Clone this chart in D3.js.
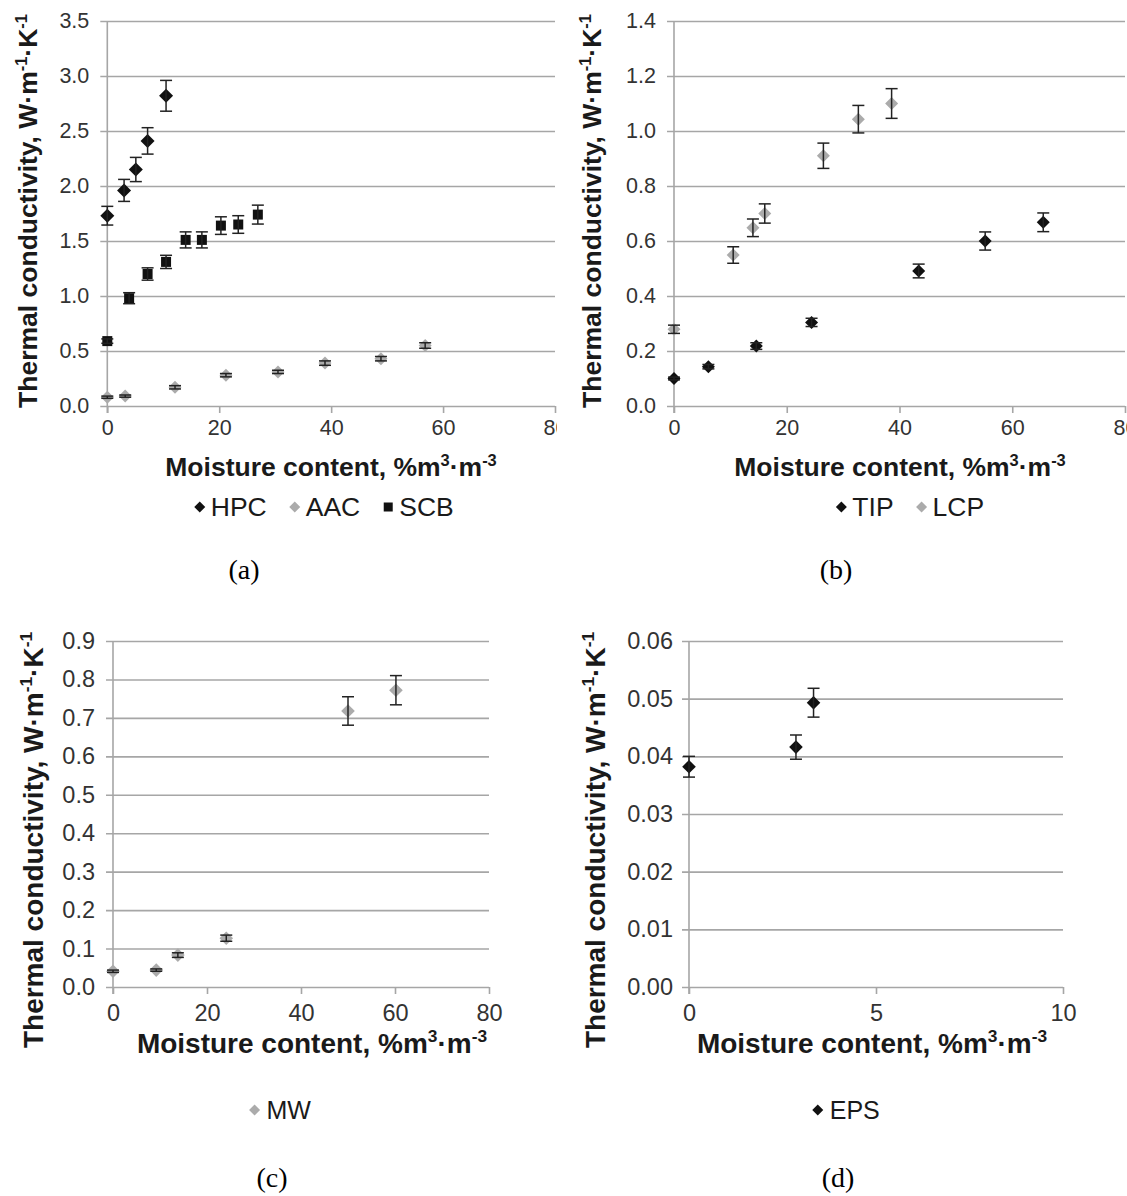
<!DOCTYPE html>
<html>
<head>
<meta charset="utf-8">
<script src="https://cdn.jsdelivr.net/npm/d3@7"></script>
<style>
  html, body { margin: 0; padding: 0; background: #fff; }
  svg { display: block; }
</style>
</head>
<body>
<svg id="chart" width="1127" height="1196"></svg>
<script>
// ---------------- DATA ----------------
// Panel (a)
const hpcX = [0, 3.0, 5.1, 7.2, 10.5];
const hpcY = [1.73, 1.96, 2.15, 2.41, 2.82];
const hpcErr = [0.085, 0.10, 0.11, 0.12, 0.14];
const aacX = [0, 3.2, 12.1, 21.2, 30.5, 38.9, 48.9, 56.8];
const aacY = [0.08, 0.09, 0.17, 0.28, 0.31, 0.39, 0.43, 0.55];
const aacErr = [0.01, 0.01, 0.015, 0.015, 0.015, 0.02, 0.02, 0.025];
const scbX = [0, 3.9, 7.2, 10.5, 14.0, 16.9, 20.3, 23.4, 26.9];
const scbY = [0.59, 0.98, 1.20, 1.31, 1.51, 1.51, 1.64, 1.65, 1.74];
const scbErr = [0.02, 0.05, 0.056, 0.06, 0.073, 0.073, 0.08, 0.08, 0.086];
// Panel (b)
const tipX = [0, 6.1, 14.6, 24.4, 43.4, 55.2, 65.5];
const tipY = [0.10, 0.143, 0.218, 0.304, 0.491, 0.60, 0.668];
const tipErr = [0.005, 0.008, 0.012, 0.015, 0.025, 0.033, 0.034];
const lcpX = [0, 10.5, 14.0, 16.1, 26.5, 32.7, 38.6];
const lcpY = [0.279, 0.549, 0.648, 0.70, 0.910, 1.043, 1.10];
const lcpErr = [0.015, 0.03, 0.032, 0.035, 0.046, 0.05, 0.054];
// Panel (c)
const mwX = [0, 9.2, 13.8, 24.1, 50.0, 60.2];
const mwY = [0.041, 0.044, 0.083, 0.127, 0.718, 0.772];
const mwErr = [0.003, 0.003, 0.006, 0.008, 0.037, 0.038];
// Panel (d)
const epsX = [0, 2.86, 3.33];
const epsY = [0.0382, 0.0416, 0.0493];
const epsErr = [0.0018, 0.0021, 0.0025];

// Tick values
const xTicksA = [0, 20, 40, 60, 80];
const yTicksA = [0, 0.5, 1.0, 1.5, 2.0, 2.5, 3.0, 3.5];
const xTicksB = [0, 20, 40, 60, 80];
const yTicksB = [0, 0.2, 0.4, 0.6, 0.8, 1.0, 1.2, 1.4];
const xTicksC = [0, 20, 40, 60, 80];
const yTicksC = [0, 0.1, 0.2, 0.3, 0.4, 0.5, 0.6, 0.7, 0.8, 0.9];
const xTicksD = [0, 5, 10];
const yTicksD = [0, 0.01, 0.02, 0.03, 0.04, 0.05, 0.06];

const captions = ["(a)", "(b)", "(c)", "(d)"];
const xTitleParts = [["Moisture content, %m", 0], ["3", 1], ["·m", 0], ["-3", 1]];
const yTitleParts = [["Thermal conductivity, W·m", 0], ["-1", 1], ["·K", 0], ["-1", 1]];

// ---------------- STYLE ----------------
const BLACK = "#111111";
const GRAY = "#ababab";
const GRID = "#a6a6a6";
const SANS = "'Liberation Sans', Arial, sans-serif";
const SERIF = "'Liberation Serif', 'Times New Roman', serif";

const svg = d3.select("#chart");

function zip(xs, ys, es) { return xs.map((x, i) => ({ x: x, y: ys[i], e: es[i] })); }

function richText(sel, parts, fs) {
  parts.forEach(([t, sup], i) => {
    const ts = sel.append("tspan").text(t);
    if (sup) {
      ts.attr("font-size", fs * 0.62).attr("dy", -fs * 0.38);
    } else {
      ts.attr("font-size", fs);
      if (i > 0 && parts[i - 1][1]) ts.attr("dy", fs * 0.38);
    }
  });
}

function diamondPath(r) { return `M0,${-r}L${r},0L0,${r}L${-r},0Z`; }

function drawPanel(cfg) {
  const g = svg.append("g");
  if (cfg.clip) {
    const id = "clip" + cfg.name;
    svg.append("clipPath").attr("id", id).append("rect")
      .attr("x", cfg.clip[0]).attr("y", 0).attr("width", cfg.clip[1] - cfg.clip[0]).attr("height", 1196);
    g.attr("clip-path", `url(#${id})`);
  }
  const x = d3.scaleLinear().domain(cfg.xDomain).range([cfg.left, cfg.right]);
  const y = d3.scaleLinear().domain(cfg.yDomain).range([cfg.bottom, cfg.top]);

  // y axis with gridlines
  const yAxis = d3.axisLeft(y).tickValues(cfg.yTicks).tickFormat(d3.format(cfg.yFmt))
    .tickSizeInner(-(cfg.right - cfg.left)).tickSizeOuter(0).tickPadding(0);
  const ya = g.append("g").attr("transform", `translate(${cfg.left},0)`).call(yAxis);
  ya.select(".domain").remove();
  ya.selectAll(".tick line").attr("stroke", GRID).attr("stroke-width", 1.6).attr("x1", -cfg.tick);
  ya.selectAll(".tick text").attr("x", -cfg.tick - cfg.ylPad).attr("fill", "#333")
    .attr("font-family", SANS).attr("font-size", cfg.tickFs);

  // x axis
  const xAxis = d3.axisBottom(x).tickValues(cfg.xTicks).tickFormat(d3.format("d"))
    .tickSize(cfg.tick).tickSizeOuter(0).tickPadding(cfg.xlPad);
  const xa = g.append("g").attr("transform", `translate(0,${cfg.bottom})`).call(xAxis);
  xa.select(".domain").remove();
  xa.selectAll(".tick line").attr("stroke", GRID).attr("stroke-width", 1.6);
  xa.selectAll(".tick text").attr("fill", "#333").attr("font-family", SANS).attr("font-size", cfg.tickFs);

  // vertical y axis line
  g.append("line").attr("x1", cfg.left).attr("x2", cfg.left)
    .attr("y1", cfg.top).attr("y2", cfg.bottom + cfg.tick)
    .attr("stroke", GRID).attr("stroke-width", 1.6);

  // series
  cfg.series.forEach(s => {
    const data = zip(s.x, s.y, s.err);
    const sg = g.append("g");
    if (s.shape === "square") {
      sg.selectAll("rect.m").data(data).join("rect").attr("class", "m")
        .attr("x", d => x(d.x) - s.size).attr("y", d => y(d.y) - s.size)
        .attr("width", s.size * 2).attr("height", s.size * 2).attr("fill", s.color);
    } else {
      sg.selectAll("path.m").data(data).join("path").attr("class", "m")
        .attr("transform", d => `translate(${x(d.x)},${y(d.y)})`)
        .attr("d", diamondPath(s.size)).attr("fill", s.color);
    }
    const eb = sg.selectAll("g.eb").data(data).join("g").attr("class", "eb")
      .attr("stroke", "#222").attr("stroke-width", 1.5);
    eb.append("line").attr("x1", d => x(d.x)).attr("x2", d => x(d.x))
      .attr("y1", d => y(d.y + d.e)).attr("y2", d => y(d.y - d.e));
    eb.append("line").attr("x1", d => x(d.x) - cfg.cap).attr("x2", d => x(d.x) + cfg.cap)
      .attr("y1", d => y(d.y + d.e)).attr("y2", d => y(d.y + d.e));
    eb.append("line").attr("x1", d => x(d.x) - cfg.cap).attr("x2", d => x(d.x) + cfg.cap)
      .attr("y1", d => y(d.y - d.e)).attr("y2", d => y(d.y - d.e));
  });

  // x title
  const xt = svg.append("text").attr("x", cfg.xTitle[0]).attr("y", cfg.xTitle[1] + cfg.titleFs * 0.35)
    .attr("text-anchor", "middle").attr("font-family", SANS).attr("font-weight", "bold")
    .attr("fill", "#1a1a1a").attr("font-size", cfg.titleFs);
  richText(xt, xTitleParts, cfg.titleFs);

  // y title
  const yt = svg.append("text")
    .attr("transform", `translate(${cfg.yTitle[0] + cfg.titleFs * 0.35},${cfg.yTitle[1]}) rotate(-90)`)
    .attr("text-anchor", "middle").attr("font-family", SANS).attr("font-weight", "bold")
    .attr("fill", "#1a1a1a").attr("font-size", cfg.titleFs);
  richText(yt, yTitleParts, cfg.titleFs);

  // legend
  const lg = svg.append("g");
  const items = [];
  const off = cfg.legOff;
  cfg.series.forEach(s => {
    const it = lg.append("g");
    if (s.shape === "square") {
      it.append("rect").attr("x", -4.5).attr("y", -4.5).attr("width", 9).attr("height", 9).attr("fill", s.color);
    } else {
      it.append("path").attr("d", diamondPath(5.5)).attr("fill", s.color);
    }
    const t = it.append("text").attr("x", off).attr("y", 0).attr("dy", "0.35em")
      .attr("font-family", SANS).attr("font-size", cfg.legFs).attr("fill", "#1a1a1a").text(s.name);
    const w = t.node().getComputedTextLength();
    items.push({ it, w });
  });
  const gap = 28;
  const total = items.reduce((a, b) => a + off + b.w, 0) + gap * (items.length - 1) + 5.5;
  let cx = cfg.legend[0] - total / 2 + 5.5;
  items.forEach(({ it, w }) => {
    it.attr("transform", `translate(${cx},${cfg.legend[1]})`);
    cx += off + w + gap;
  });

  // caption
  svg.append("text").attr("x", cfg.caption[0]).attr("y", cfg.caption[1]).attr("dy", "0.33em")
    .attr("text-anchor", "middle").attr("font-family", SERIF).attr("font-size", 28)
    .attr("fill", "#000").text(cfg.captionText);
}

drawPanel({
  name: "a", left: 107.3, right: 555, top: 21, bottom: 406, clip: [0, 557],
  xDomain: [0, 80], yDomain: [0, 3.5], xTicks: xTicksA, yTicks: yTicksA, yFmt: ".1f",
  tick: 7, ylPad: 11, xlPad: 7, cap: 6, tickFs: 21.5, titleFs: 26.5, legFs: 26.5, legOff: 11,
  xTitle: [331, 467], yTitle: [28, 211], legend: [324, 507], caption: [244, 570], captionText: captions[0],
  series: [
    { name: "HPC", x: hpcX, y: hpcY, err: hpcErr, shape: "diamond", size: 7, color: BLACK },
    { name: "AAC", x: aacX, y: aacY, err: aacErr, shape: "diamond", size: 6.5, color: GRAY },
    { name: "SCB", x: scbX, y: scbY, err: scbErr, shape: "square", size: 5, color: BLACK }
  ]
});

drawPanel({
  name: "b", left: 674, right: 1125, top: 21, bottom: 406, clip: null,
  xDomain: [0, 80], yDomain: [0, 1.4], xTicks: xTicksB, yTicks: yTicksB, yFmt: ".1f",
  tick: 7, ylPad: 11, xlPad: 7, cap: 6, tickFs: 21.5, titleFs: 26.5, legFs: 26.5, legOff: 11,
  xTitle: [900, 467], yTitle: [592, 211], legend: [910, 507], caption: [836, 570], captionText: captions[1],
  series: [
    { name: "TIP", x: tipX, y: tipY, err: tipErr, shape: "diamond", size: 6.5, color: BLACK },
    { name: "LCP", x: lcpX, y: lcpY, err: lcpErr, shape: "diamond", size: 6.5, color: GRAY }
  ]
});

drawPanel({
  name: "c", left: 113, right: 489, top: 641, bottom: 987, clip: null,
  xDomain: [0, 80], yDomain: [0, 0.9], xTicks: xTicksC, yTicks: yTicksC, yFmt: ".1f",
  tick: 7, ylPad: 11, xlPad: 10, cap: 6, tickFs: 23.5, titleFs: 28, legFs: 25, legOff: 12,
  xTitle: [312, 1043], yTitle: [33, 840], legend: [280, 1110], caption: [272, 1178], captionText: captions[2],
  series: [
    { name: "MW", x: mwX, y: mwY, err: mwErr, shape: "diamond", size: 6.8, color: GRAY }
  ]
});

drawPanel({
  name: "d", left: 689, right: 1063, top: 641, bottom: 987, clip: null,
  xDomain: [0, 10], yDomain: [0, 0.06], xTicks: xTicksD, yTicks: yTicksD, yFmt: ".2f",
  tick: 7, ylPad: 9, xlPad: 10, cap: 6, tickFs: 23.5, titleFs: 28, legFs: 25, legOff: 12,
  xTitle: [872, 1043], yTitle: [595, 840], legend: [846, 1110], caption: [838, 1178], captionText: captions[3],
  series: [
    { name: "EPS", x: epsX, y: epsY, err: epsErr, shape: "diamond", size: 6.8, color: BLACK }
  ]
});
</script>
</body>
</html>
